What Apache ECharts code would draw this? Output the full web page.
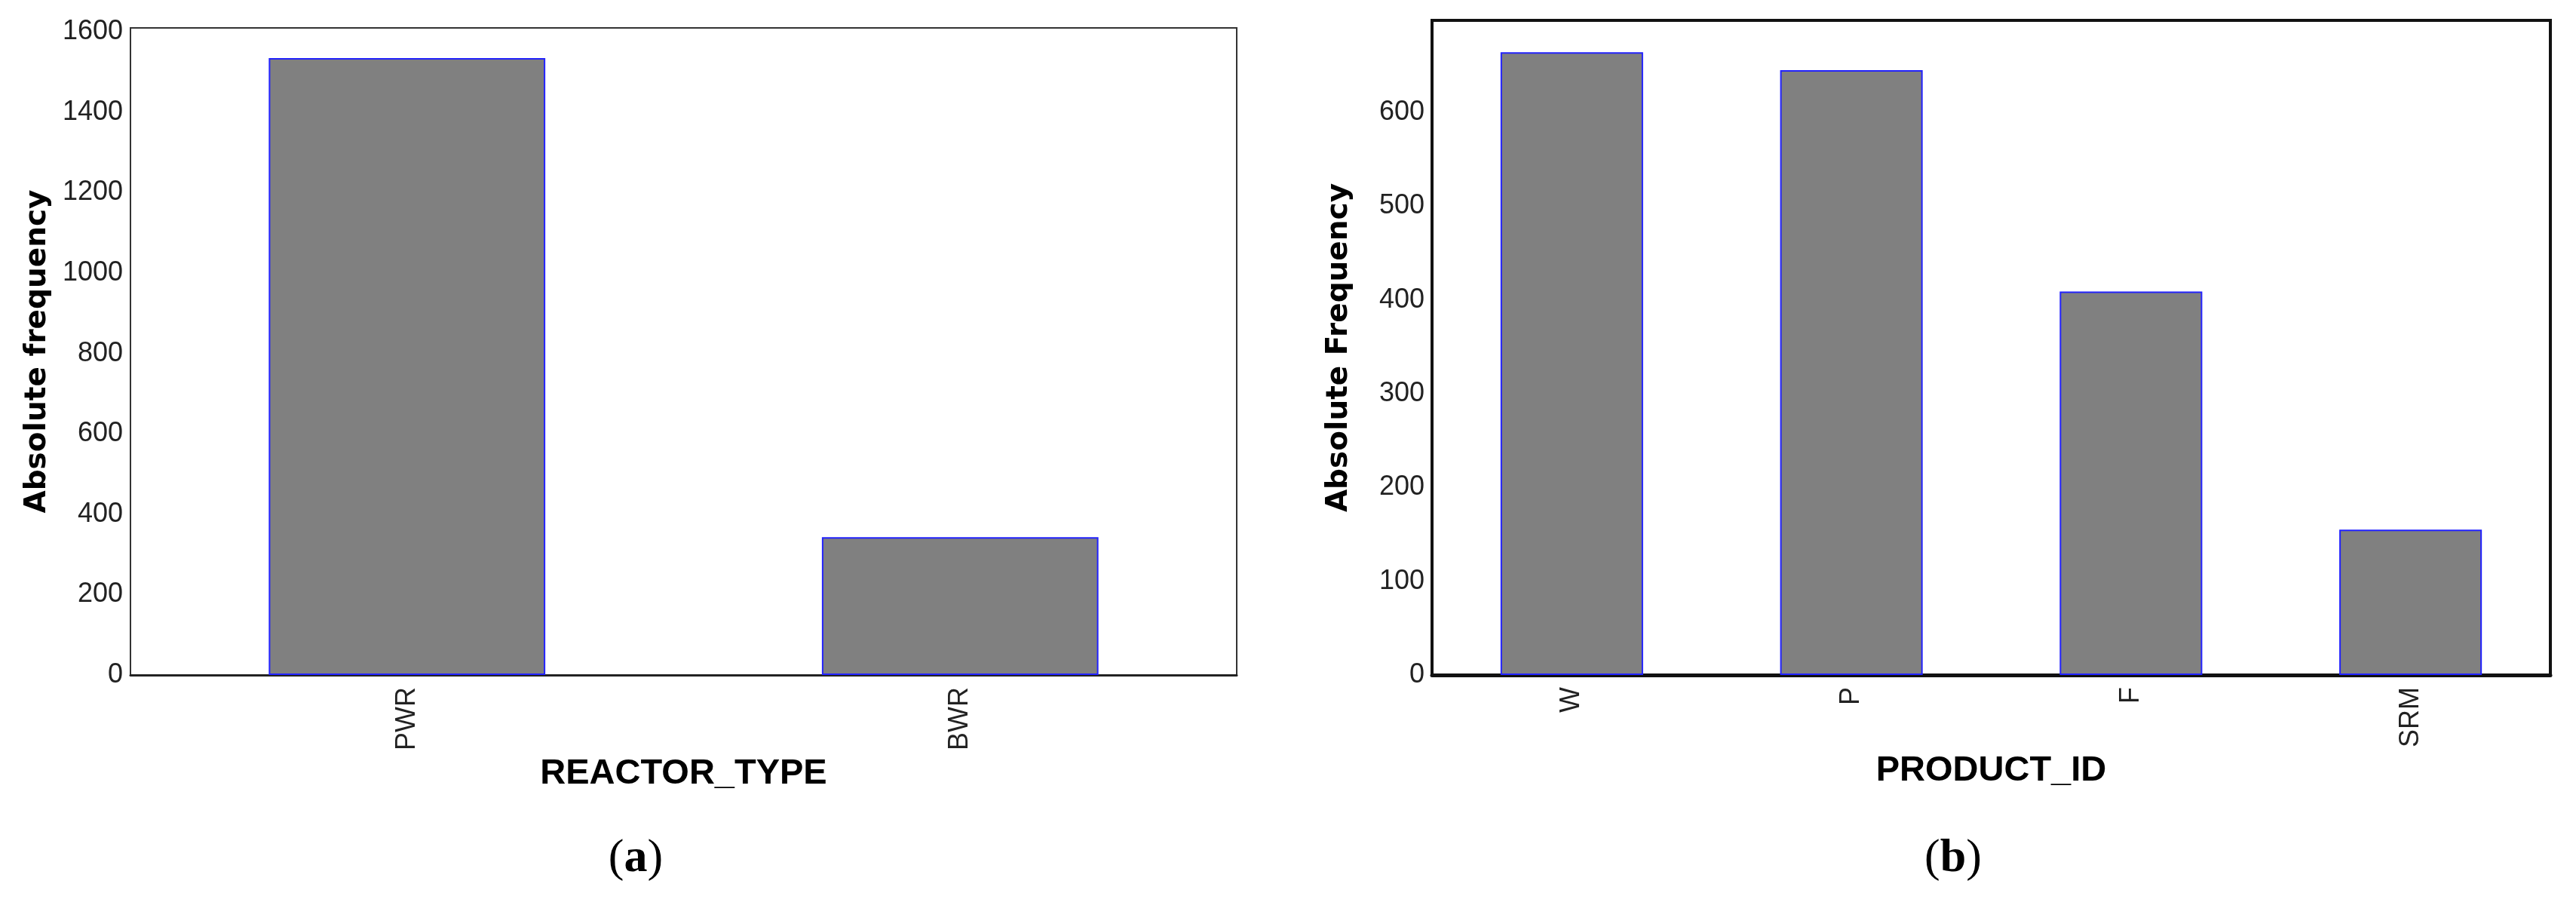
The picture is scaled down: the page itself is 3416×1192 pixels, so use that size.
<!DOCTYPE html>
<html>
<head>
<meta charset="utf-8">
<script src="https://cdn.jsdelivr.net/npm/echarts@6/dist/echarts.min.js"></script>
<style>
  html, body { margin: 0; padding: 0; background: #fff; }
  #main { width: 3416px; height: 1192px; }
</style>
</head>
<body>
<div id="main"></div>
<script>
"use strict";
// (a) reactor type counts
let reactorTypes = ['PWR', 'BWR'];
let reactorCounts = [1535, 343];
let reactorTicks = [0, 200, 400, 600, 800, 1000, 1200, 1400, 1600];
// (b) product id counts
let productIds = ['W', 'P', 'F', 'SRM'];
let productCounts = [664, 645, 409, 155];
let productTicks = [0, 100, 200, 300, 400, 500, 600];

let myChart = echarts.init(document.getElementById('main'));

let labelFont = {
    fontFamily: 'Liberation Sans, Arial, sans-serif',
    fontSize: 36,
    color: '#222'
};

function yAxisOf(gridIndex, max, interval, name, lineW, lineC, ticks) {
    return {
        type: 'value',
        gridIndex: gridIndex,
        min: 0,
        max: max,
        interval: interval,
        name: name,
        nameLocation: 'middle',
        nameGap: 104,
        nameTextStyle: {
            fontFamily: 'DejaVu Sans',
            fontWeight: 'bold',
            fontSize: 39,
            color: '#000'
        },
        axisLine: { show: true, lineStyle: { color: lineC, width: lineW } },
        axisTick: { show: false },
        splitLine: { show: false },
        axisLabel: Object.assign({
            margin: 10,
            showMaxLabel: false,
            formatter: function (v) { return ticks.indexOf(v) >= 0 ? String(v) : ''; }
        }, labelFont)
    };
}

function xAxisOf(gridIndex, cats, name, lineW, lineC) {
    return {
        type: 'category',
        gridIndex: gridIndex,
        data: cats,
        name: name,
        nameLocation: 'middle',
        nameGap: 104,
        nameTextStyle: {
            fontFamily: 'Liberation Sans, Arial, sans-serif',
            fontWeight: 'bold',
            fontSize: 47,
            color: '#000'
        },
        axisLine: { show: true, lineStyle: { color: lineC, width: lineW } },
        axisTick: { show: false },
        axisLabel: Object.assign({ rotate: 90, margin: 16 }, labelFont)
    };
}

let barStyle = {
    color: '#808080',
    borderColor: '#2222ff',
    borderWidth: 2
};

let option = {
    backgroundColor: '#fff',
    animation: false,
    grid: [
        { left: 173, top: 37, width: 1467, height: 858, show: true, borderColor: '#333', borderWidth: 2 },
        { left: 1899, top: 27, width: 1483, height: 868, show: true, borderColor: '#111', borderWidth: 4 }
    ],
    xAxis: [
        xAxisOf(0, reactorTypes, 'REACTOR_TYPE', 3, '#222'),
        xAxisOf(1, productIds, 'PRODUCT_ID', 5, '#111')
    ],
    yAxis: [
        yAxisOf(0, 1610, 200, 'Absolute frequency', 2, '#333', reactorTicks),
        yAxisOf(1, 698, 100, 'Absolute Frequency', 4, '#111', productTicks)
    ],
    series: [
        {
            type: 'bar', xAxisIndex: 0, yAxisIndex: 0,
            data: reactorCounts, barWidth: '50%', itemStyle: barStyle
        },
        {
            type: 'bar', xAxisIndex: 1, yAxisIndex: 1,
            data: productCounts, barWidth: '51%', itemStyle: barStyle
        }
    ],
    graphic: [
        {
            type: 'text', x: 843, y: 1139,
            style: {
                text: '{p|(}{b|a}{p|)}',
                textAlign: 'center', textVerticalAlign: 'middle',
                rich: {
                    p: { fontFamily: 'Liberation Serif, serif', fontSize: 62, fill: '#000' },
                    b: { fontFamily: 'Liberation Serif, serif', fontSize: 62, fontWeight: 'bold', fill: '#000' }
                }
            }
        },
        {
            type: 'text', x: 2590, y: 1139,
            style: {
                text: '{p|(}{b|b}{p|)}',
                textAlign: 'center', textVerticalAlign: 'middle',
                rich: {
                    p: { fontFamily: 'Liberation Serif, serif', fontSize: 62, fill: '#000' },
                    b: { fontFamily: 'Liberation Serif, serif', fontSize: 62, fontWeight: 'bold', fill: '#000' }
                }
            }
        }
    ]
};
myChart.setOption(option);
</script>
</body>
</html>
